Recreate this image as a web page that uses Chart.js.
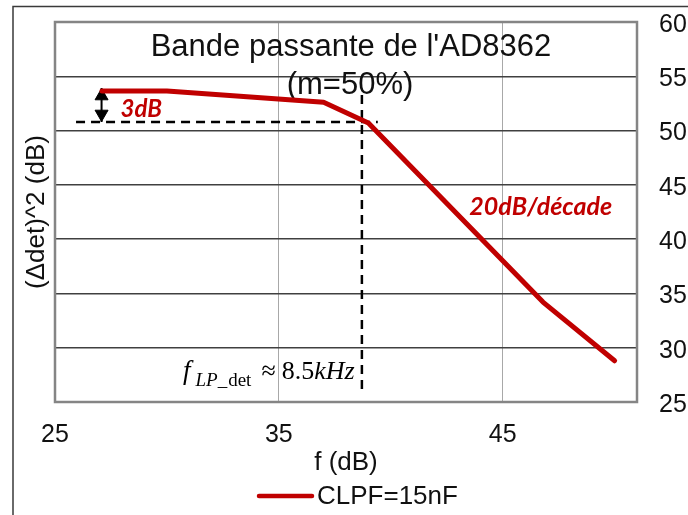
<!DOCTYPE html>
<html><head><meta charset="utf-8">
<script src="https://cdn.jsdelivr.net/npm/chart.js@4.4.0/dist/chart.umd.min.js"></script>
<style>html,body{margin:0;padding:0;background:#fff}canvas{display:block}</style>
</head><body>
<canvas id="c" width="688" height="515"></canvas>
<script>
// ---- data ----
const fValues = [27.1, 30, 37, 39, 46.8, 50];
const gainValues = [53.65, 53.65, 52.6, 50.7, 34.2, 28.8];
const xTickValues = [25, 35, 45];
const yTickValues = [25, 30, 35, 40, 45, 50, 55, 60];
const cutoffHX = [25.94, 39.42];
const cutoffHY = [50.79, 50.79];
const cutoffVX = [38.71, 38.71];
const cutoffVY = [53.28, 25.74];
const arrowX = [27.08, 27.08];
const arrowY = [53.92, 50.79];
const arrowHeadY = [53.18, 51.53];
const seriesLabel = 'CLPF=15nF';
const titleLines = ["Bande passante de l'AD8362", "(m=50%)"];
const xTitle = 'f (dB)';
const yTitle = '(\u0394det)^2 (dB)';
const note3dB = '3dB';
const noteSlope = '20dB/d\u00e9cade';
const formulaParts = ['f', 'LP', '_', 'det', '\u2248', '8.5', 'kHz'];

const RED = '#c00000';
const SANS = '"Liberation Sans", Arial, sans-serif';
const SERIF = '"Liberation Serif", "Times New Roman", serif';
const NOTE = 'Lato, "Open Sans", sans-serif';

const pts = (xs, ys) => xs.map((x, i) => ({x, y: ys[i]}));

const decor = {
  id: 'decor',
  beforeDraw(chart) {
    const {ctx} = chart;
    ctx.save();
    ctx.fillStyle = '#fff';
    ctx.fillRect(0, 0, chart.width, chart.height);
    ctx.strokeStyle = '#3a3a3a';
    ctx.lineWidth = 1.5;
    ctx.beginPath();
    ctx.moveTo(13, 515); ctx.lineTo(13, 6.5); ctx.lineTo(688, 6.5);
    ctx.stroke();
    ctx.restore();
  },
  beforeDatasetsDraw(chart) {
    const {ctx, chartArea: a} = chart;
    ctx.save();
    ctx.strokeStyle = '#858585';
    ctx.lineWidth = 2.5;
    ctx.strokeRect(a.left, a.top, a.right - a.left, a.bottom - a.top);
    ctx.fillStyle = '#111';
    ctx.font = '31px ' + SANS;
    ctx.textAlign = 'center';
    ctx.textBaseline = 'alphabetic';
    const cx = (a.left + a.right) / 2;
    ctx.fillText(titleLines[0], cx + 5, a.top + 34);
    ctx.fillText(titleLines[1], cx + 4, a.top + 72);
    ctx.restore();
  },
  afterDatasetsDraw(chart) {
    const {ctx} = chart;
    const sx = chart.scales.x, sy = chart.scales.y;
    ctx.save();
    // notes
    ctx.fillStyle = RED;
    ctx.textAlign = 'center';
    ctx.textBaseline = 'middle';
    ctx.font = 'italic bold 24px ' + NOTE;
    ctx.fillText(note3dB, sx.getPixelForValue(28.85), sy.getPixelForValue(51.95));
    ctx.font = 'italic bold 25px ' + NOTE;
    ctx.fillText(noteSlope, sx.getPixelForValue(46.7), sy.getPixelForValue(42.96));
    // formula
    ctx.fillStyle = '#000';
    ctx.textAlign = 'left';
    ctx.textBaseline = 'alphabetic';
    let x = 183;
    const base = 379;
    const seg = (t, font, dy, gap) => {
      ctx.font = font;
      ctx.fillText(t, x, base + dy);
      x += ctx.measureText(t).width + gap;
    };
    seg(formulaParts[0], 'italic 27px ' + SERIF, 0, 5);
    seg(formulaParts[1], 'italic 19px ' + SERIF, 7, 0);
    seg(formulaParts[2], '19px ' + SERIF, 7, 1);
    seg(formulaParts[3], '19px ' + SERIF, 7, 10);
    seg(formulaParts[4], '26px ' + SERIF, 0, 6);
    seg(formulaParts[5], '26px ' + SERIF, 0, 0);
    seg(formulaParts[6], 'italic 26px ' + SERIF, 0, 0);
    // legend
    const ds = chart.data.datasets[0];
    ctx.strokeStyle = ds.borderColor;
    ctx.lineWidth = 4.5;
    ctx.lineCap = 'round';
    ctx.beginPath();
    ctx.moveTo(259, 496); ctx.lineTo(312, 496);
    ctx.stroke();
    ctx.fillStyle = '#111';
    ctx.font = '26px ' + SANS;
    ctx.textBaseline = 'middle';
    ctx.fillText(ds.label, 317, 497);
    ctx.restore();
  }
};

const fixTicks = vals => s => { s.ticks = vals.map(v => ({value: v})); };
const edge = (lo, hi, col) => c => (c.tick && (c.tick.value === lo || c.tick.value === hi)) ? 'rgba(0,0,0,0)' : col;

new Chart(document.getElementById('c'), {
  type: 'line',
  data: {
    datasets: [
      {label: seriesLabel, data: pts(fValues, gainValues), borderColor: RED, backgroundColor: RED,
       borderWidth: 5, pointRadius: 0, tension: 0, borderCapStyle: 'round', borderJoinStyle: 'round'},
      {label: 'h', data: pts(cutoffHX, cutoffHY), borderColor: '#000', borderWidth: 2.5, borderDash: [9, 6], pointRadius: 0},
      {label: 'v', data: pts(cutoffVX, cutoffVY), borderColor: '#000', borderWidth: 2.5, borderDash: [9, 6], pointRadius: 0},
      {label: 'a', data: pts(arrowX, arrowY), borderColor: '#000', borderWidth: 2, pointRadius: 0},
      {label: 'ah', data: pts(arrowX, arrowHeadY), showLine: false, pointStyle: 'triangle', pointRadius: 7.5,
       pointRotation: [0, 180], backgroundColor: '#000', borderColor: '#000', borderWidth: 1}
    ]
  },
  options: {
    responsive: false,
    animation: false,
    devicePixelRatio: 1,
    layout: {padding: {top: 22, left: 0, right: 0, bottom: 0}},
    plugins: {legend: {display: false}, tooltip: {enabled: false}},
    scales: {
      x: {
        type: 'linear', position: 'bottom', min: 25, max: 51,
        afterBuildTicks: fixTicks(xTickValues),
        afterFit: s => { s.height = 113; s.paddingLeft = 0; s.paddingRight = 0; },
        border: {display: false},
        grid: {color: edge(25, 51, '#a8a8a8'), lineWidth: 1, drawTicks: false},
        ticks: {font: {family: SANS, size: 25}, color: '#111', padding: 18, maxRotation: 0},
        title: {display: true, text: xTitle, font: {family: SANS, size: 26}, color: '#111', padding: {top: 0, bottom: 37}}
      },
      y: {
        type: 'linear', position: 'left', min: 25, max: 60,
        afterBuildTicks: fixTicks(yTickValues),
        afterFit: s => { s.width = 55; s.paddingTop = 0; s.paddingBottom = 0; },
        border: {display: false},
        grid: {color: edge(25, 60, '#404040'), lineWidth: 1.5, drawTicks: false},
        ticks: {display: false},
        title: {display: true, text: yTitle, font: {family: SANS, size: 26}, color: '#111', padding: {top: 21, bottom: 0}}
      },
      y2: {
        type: 'linear', position: 'right', min: 25, max: 60,
        afterBuildTicks: fixTicks(yTickValues),
        afterFit: s => { s.width = 51; s.paddingTop = 0; s.paddingBottom = 0; },
        border: {display: false},
        grid: {display: false, drawTicks: false},
        ticks: {font: {family: SANS, size: 25}, color: '#111', padding: 22, labelOffset: 3}
      }
    }
  },
  plugins: [decor]
});
</script>
</body></html>
